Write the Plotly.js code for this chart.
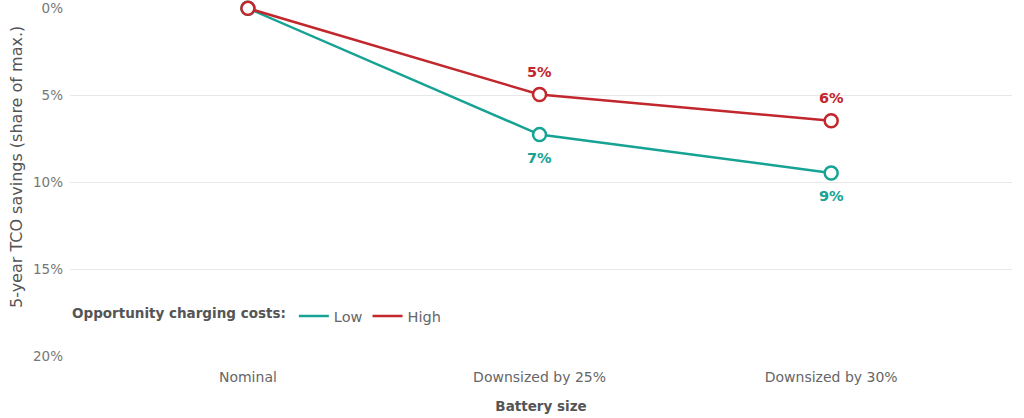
<!DOCTYPE html>
<html>
<head>
<meta charset="utf-8">
<script src="https://cdn.plot.ly/plotly-3.0.1.min.js"></script>
<style>
  html, body { margin: 0; padding: 0; background: #fff; }
  #chart { width: 1024px; height: 418px; }
</style>
</head>
<body>
<div id="chart"></div>
<script>
// battery size scenarios
const categories = ['Nominal', 'Downsized by 25%', 'Downsized by 30%'];

// 5-year TCO savings, % of max
const lowValues = [0, 7.25, 9.45];
const highValues = [0, 4.95, 6.45];
const lowLabels = ['', '7%', '9%'];
const highLabels = ['', '5%', '6%'];

const yTicks = [0, 5, 10, 15, 20];

const teal = '#16a394';
const red = '#c1272d';
const font = 'DejaVu Sans, sans-serif';

function lineTrace(name, values, color) {
    return {
        type: 'scatter',
        mode: 'lines+markers',
        name: name,
        x: categories,
        y: values,
        line: { color: color, width: 2.5 },
        marker: { symbol: 'circle', size: 13, color: '#fff', line: { color: color, width: 2.5 } },
        cliponaxis: false,
        showlegend: false,
        hovertemplate: '%{x}: %{y:.1f}%<extra>' + name + '</extra>'
    };
}

// legend entries drawn as plain lines
function legendTrace(name, color) {
    return {
        type: 'scatter',
        mode: 'lines',
        name: name,
        x: [null],
        y: [null],
        line: { color: color, width: 2.5 },
        showlegend: true,
        hoverinfo: 'skip'
    };
}

// value labels above (high) and below (low) the markers
function labelAnnotations(values, labels, color, shift) {
    return values.map((v, i) => ({
        x: categories[i],
        y: v,
        xref: 'x',
        yref: 'y',
        text: labels[i],
        showarrow: false,
        yshift: shift,
        font: { family: font, size: 14.5, color: color, weight: 'bold' }
    })).filter(a => a.text);
}

const layout = {
    width: 1024,
    height: 418,
    margin: { l: 70, r: 12, t: 8, b: 61 },
    paper_bgcolor: '#fff',
    plot_bgcolor: '#fff',
    font: { family: font, color: '#666' },
    xaxis: {
        type: 'category',
        range: [-0.61, 2.62],
        showgrid: false,
        zeroline: false,
        showline: false,
        ticks: '',
        ticklabelstandoff: 10,
        tickfont: { family: font, size: 14, color: '#666' },
        title: {
            text: 'Battery size',
            font: { family: font, size: 13.5, color: '#555', weight: 'bold' },
            standoff: 17
        }
    },
    yaxis: {
        range: [20.02, -0.02],
        tickvals: yTicks,
        ticktext: yTicks.map(v => v + '%'),
        showgrid: true,
        gridcolor: '#e8e8e8',
        gridwidth: 1,
        zeroline: false,
        showline: false,
        ticks: '',
        ticklabelstandoff: 6,
        tickfont: { family: font, size: 13.5, color: '#777' }
    },
    showlegend: true,
    legend: {
        orientation: 'h',
        x: 0,
        xanchor: 'left',
        y: 0.117,
        yanchor: 'middle',
        bgcolor: 'rgba(0,0,0,0)',
        font: { family: font, size: 14.5, color: '#666' },
        title: {
            text: 'Opportunity charging costs:',
            font: { family: font, size: 13.5, color: '#555', weight: 'bold' },
            side: 'left'
        },
        traceorder: 'normal'
    },
    annotations: [
        // y axis title, placed a little above the plot centre as in the original
        {
            text: '5-year TCO savings (share of max.)',
            textangle: -90,
            xref: 'paper',
            yref: 'paper',
            x: -0.056,
            y: 0.545,
            xanchor: 'center',
            yanchor: 'middle',
            showarrow: false,
            font: { family: font, size: 16, color: '#555' }
        },
        ...labelAnnotations(lowValues, lowLabels, teal, -23),
        ...labelAnnotations(highValues, highLabels, red, 23)
    ]
};

const traces = [
    lineTrace('Low', lowValues, teal),
    lineTrace('High', highValues, red),
    legendTrace('Low', teal),
    legendTrace('High', red)
];

Plotly.newPlot('chart', traces, layout, { displayModeBar: false, staticPlot: true });
</script>
</body>
</html>
